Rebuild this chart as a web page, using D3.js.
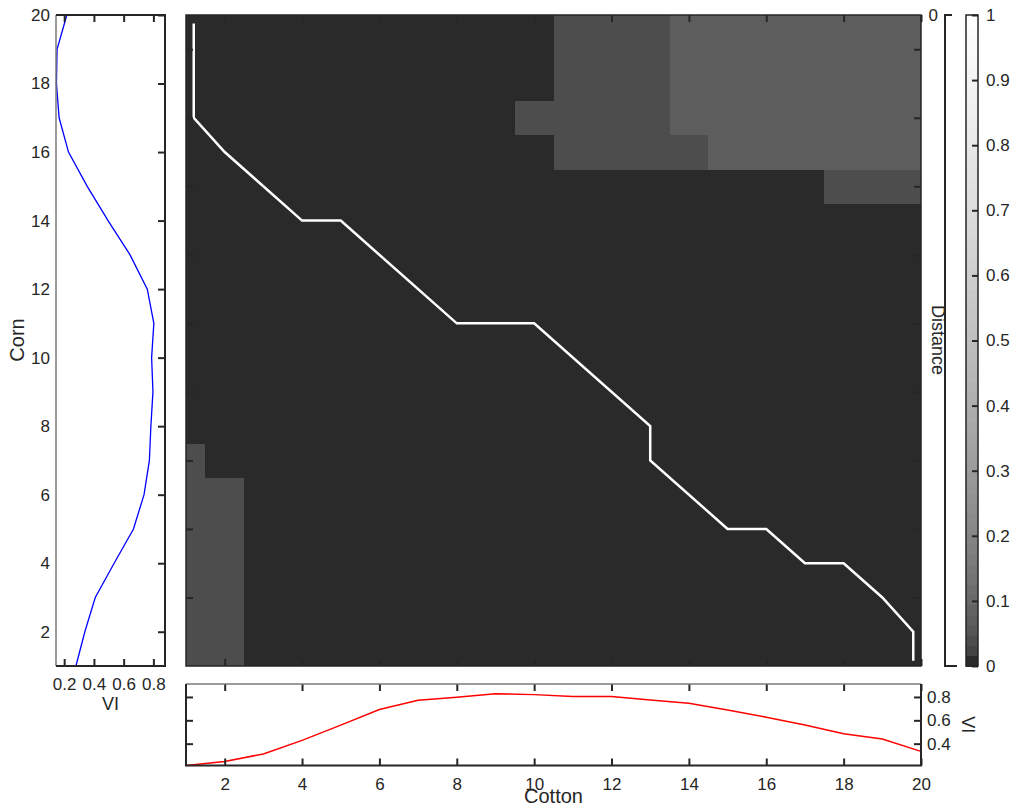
<!DOCTYPE html>
<html>
<head>
<meta charset="utf-8">
<script src="https://cdn.jsdelivr.net/npm/d3@7/dist/d3.min.js"></script>
<style>
  html, body { margin: 0; padding: 0; background: #fff; }
  svg { display: block; font-family: "Liberation Sans", Arial, sans-serif; }
  .tick text { fill: #262626; }
</style>
</head>
<body>
<svg id="chart" width="1019" height="811"></svg>
<script>
// ---- data ----
const cottonIdx = d3.range(1, 21);           // Cotton samples 1..20
const cornIdx = d3.range(1, 21);             // Corn samples 1..20

// VI profile of Cotton (bottom panel), index 1..20
const cottonVI = [0.213, 0.247, 0.312, 0.428, 0.559, 0.692, 0.772, 0.797, 0.828, 0.820,
                  0.803, 0.803, 0.774, 0.746, 0.689, 0.627, 0.559, 0.485, 0.440, 0.334];
// VI profile of Corn (left panel), index 1..20
const cornVI = [0.279, 0.339, 0.409, 0.536, 0.666, 0.737, 0.773, 0.783, 0.797, 0.788,
                0.803, 0.759, 0.643, 0.495, 0.355, 0.229, 0.166, 0.148, 0.152, 0.218];

// Distance matrix, one row per Corn index (1..20), one column per Cotton index (1..20)
const distanceRows = [
  [0.04,0.04,0,0,0,0,0,0,0,0,0,0,0,0,0,0,0,0,0,0],
  [0.04,0.04,0,0,0,0,0,0,0,0,0,0,0,0,0,0,0,0,0,0],
  [0.04,0.04,0,0,0,0,0,0,0,0,0,0,0,0,0,0,0,0,0,0],
  [0.04,0.04,0,0,0,0,0,0,0,0,0,0,0,0,0,0,0,0,0,0],
  [0.04,0.04,0,0,0,0,0,0,0,0,0,0,0,0,0,0,0,0,0,0],
  [0.04,0.04,0,0,0,0,0,0,0,0,0,0,0,0,0,0,0,0,0,0],
  [0.04,0,0,0,0,0,0,0,0,0,0,0,0,0,0,0,0,0,0,0],
  [0,0,0,0,0,0,0,0,0,0,0,0,0,0,0,0,0,0,0,0],
  [0,0,0,0,0,0,0,0,0,0,0,0,0,0,0,0,0,0,0,0],
  [0,0,0,0,0,0,0,0,0,0,0,0,0,0,0,0,0,0,0,0],
  [0,0,0,0,0,0,0,0,0,0,0,0,0,0,0,0,0,0,0,0],
  [0,0,0,0,0,0,0,0,0,0,0,0,0,0,0,0,0,0,0,0],
  [0,0,0,0,0,0,0,0,0,0,0,0,0,0,0,0,0,0,0,0],
  [0,0,0,0,0,0,0,0,0,0,0,0,0,0,0,0,0,0,0,0],
  [0,0,0,0,0,0,0,0,0,0,0,0,0,0,0,0,0,0.04,0.04,0.04],
  [0,0,0,0,0,0,0,0,0,0,0.04,0.04,0.04,0.04,0.07,0.07,0.07,0.07,0.07,0.07],
  [0,0,0,0,0,0,0,0,0,0.04,0.04,0.04,0.04,0.07,0.07,0.07,0.07,0.07,0.07,0.07],
  [0,0,0,0,0,0,0,0,0,0,0.04,0.04,0.04,0.07,0.07,0.07,0.07,0.07,0.07,0.07],
  [0,0,0,0,0,0,0,0,0,0,0.04,0.04,0.04,0.07,0.07,0.07,0.07,0.07,0.07,0.07],
  [0,0,0,0,0,0,0,0,0,0,0.04,0.04,0.04,0.07,0.07,0.07,0.07,0.07,0.07,0.07]
];

// Warping path (Cotton index, Corn index)
const pathCotton = [1.2, 1.2, 2, 4, 5, 8, 10, 13, 13, 15, 16, 17, 18, 19, 19.8, 19.8];
const pathCorn   = [19.75, 17, 16, 14, 14, 11, 11, 8, 7, 5, 5, 4, 4, 3, 2, 1.15];

const idxTicks = [2, 4, 6, 8, 10, 12, 14, 16, 18, 20];
const oddTicks = [3, 5, 7, 9, 11, 13, 15, 17, 19];
const viTicksLeft = [0.2, 0.4, 0.6, 0.8];
const viTicksBottom = [0.4, 0.6, 0.8];
const colorbarTicks = [0, 0.1, 0.2, 0.3, 0.4, 0.5, 0.6, 0.7, 0.8, 0.9, 1];

// ---- layout ----
const svg = d3.select("#chart");
const ink = "#262626";
const main = { left: 186, right: 921, top: 15, bottom: 666 };
const leftP = { left: 56, right: 165 };
const botP = { top: 684, bottom: 765.5 };
const cbar = { left: 966, right: 978 };

const x = d3.scaleLinear().domain([1, 20]).range([main.left, main.right]);
const y = d3.scaleLinear().domain([1, 20]).range([main.bottom, main.top]);
const xVI = d3.scaleLinear().domain([0.145, 0.878]).range([leftP.left, leftP.right]);
const yVI = d3.scaleLinear().domain([0.213, 0.911]).range([botP.bottom, botP.top]);
const yCb = d3.scaleLinear().domain([0, 1]).range([main.bottom, main.top]);

// 64-level gray colormap
const nLevels = 64;
const levelGray = i => Math.round(42 + 213 * Math.pow(i / (nLevels - 1), 0.52));
const grayColor = v => {
  const i = Math.max(0, Math.min(nLevels - 1, Math.floor(v * nLevels)));
  const g = levelGray(i);
  return `rgb(${g},${g},${g})`;
};

function styleAxis(g, fontSize) {
  g.select(".domain").remove();
  g.selectAll(".tick line").attr("stroke", ink).attr("stroke-width", 2);
  g.selectAll(".tick text").attr("font-size", fontSize).attr("fill", ink);
}

// ---- heat map ----
svg.append("clipPath").attr("id", "mainClip")
  .append("rect")
  .attr("x", main.left).attr("y", main.top)
  .attr("width", main.right - main.left).attr("height", main.bottom - main.top);

const cells = [];
distanceRows.forEach((row, r) => row.forEach((v, c) => cells.push({ corn: cornIdx[r], cotton: cottonIdx[c], v })));

svg.append("g").attr("clip-path", "url(#mainClip)")
  .selectAll("rect").data(cells).join("rect")
  .attr("x", d => x(d.cotton - 0.5))
  .attr("y", d => y(d.corn + 0.5))
  .attr("width", d => x(d.cotton + 0.5) - x(d.cotton - 0.5) + 0.5)
  .attr("height", d => y(d.corn - 0.5) - y(d.corn + 0.5) + 0.5)
  .attr("fill", d => grayColor(d.v))
  .attr("shape-rendering", "crispEdges");

// warping path
const pathPts = pathCotton.map((c, i) => [c, pathCorn[i]]);
svg.append("path")
  .datum(pathPts)
  .attr("d", d3.line().x(d => x(d[0])).y(d => y(d[1])))
  .attr("fill", "none").attr("stroke", "#fff").attr("stroke-width", 2.5);

// inward ticks on all four sides of the heat map
svg.append("g").attr("transform", `translate(0,${main.bottom})`)
  .call(d3.axisBottom(x).tickValues(idxTicks).tickSize(-7).tickFormat(""))
  .call(g => styleAxis(g, 0));
svg.append("g").attr("transform", `translate(0,${main.top})`)
  .call(d3.axisTop(x).tickValues(idxTicks).tickSize(-7).tickFormat(""))
  .call(g => styleAxis(g, 0));
svg.append("g").attr("transform", `translate(${main.left},0)`)
  .call(d3.axisLeft(y).tickValues(oddTicks).tickSize(-7).tickFormat(""))
  .call(g => styleAxis(g, 0));
svg.append("g").attr("transform", `translate(${main.right},0)`)
  .call(d3.axisRight(y).tickValues(oddTicks).tickSize(-7).tickFormat(""))
  .call(g => styleAxis(g, 0));
svg.append("rect")
  .attr("x", main.left).attr("y", main.top)
  .attr("width", main.right - main.left).attr("height", main.bottom - main.top)
  .attr("fill", "none").attr("stroke", ink).attr("stroke-width", 1.5);

// ---- left panel: Corn VI ----
svg.append("path")
  .datum(cornIdx.map((k, i) => [cornVI[i], k]))
  .attr("d", d3.line().x(d => xVI(d[0])).y(d => y(d[1])))
  .attr("fill", "none").attr("stroke", "#0000ff").attr("stroke-width", 1.3);

svg.append("g").attr("transform", `translate(${leftP.left},0)`)
  .call(d3.axisLeft(y).tickValues(idxTicks).tickSize(0).tickPadding(6))
  .call(g => styleAxis(g, 17));
svg.append("g").attr("transform", `translate(${leftP.right},0)`)
  .call(d3.axisRight(y).tickValues(idxTicks).tickSize(-7).tickFormat(""))
  .call(g => styleAxis(g, 0));
svg.append("g").attr("transform", `translate(0,${main.bottom})`)
  .call(d3.axisBottom(xVI).tickValues(viTicksLeft).tickSizeInner(-7).tickSizeOuter(0).tickPadding(12).tickFormat(d3.format(".1f")))
  .call(g => styleAxis(g, 17));
svg.append("g").attr("transform", `translate(0,${main.top})`)
  .call(d3.axisTop(xVI).tickValues(viTicksLeft).tickSize(-7).tickFormat(""))
  .call(g => styleAxis(g, 0));
// frame
svg.append("line").attr("x1", leftP.left).attr("x2", leftP.left).attr("y1", main.top).attr("y2", main.bottom)
  .attr("stroke", "#7a7a7a").attr("stroke-width", 1.5);
svg.append("path")
  .attr("d", `M${leftP.left},${main.top}H${leftP.right}V${main.bottom}H${leftP.left}`)
  .attr("fill", "none").attr("stroke", ink).attr("stroke-width", 2);

svg.append("text")
  .attr("transform", `translate(24,340) rotate(-90)`)
  .attr("text-anchor", "middle").attr("font-size", 20).attr("fill", ink)
  .text("Corn");
svg.append("text")
  .attr("x", (leftP.left + leftP.right) / 2).attr("y", 710)
  .attr("text-anchor", "middle").attr("font-size", 18).attr("fill", ink)
  .text("VI");

// ---- bottom panel: Cotton VI ----
svg.append("path")
  .datum(cottonIdx.map((k, i) => [k, cottonVI[i]]))
  .attr("d", d3.line().x(d => x(d[0])).y(d => yVI(d[1])))
  .attr("fill", "none").attr("stroke", "#ff0000").attr("stroke-width", 1.5);

svg.append("g").attr("transform", `translate(0,${botP.bottom})`)
  .call(d3.axisBottom(x).tickValues(idxTicks).tickSizeInner(-7).tickSizeOuter(0).tickPadding(12))
  .call(g => styleAxis(g, 17));
svg.append("g").attr("transform", `translate(0,${botP.top})`)
  .call(d3.axisTop(x).tickValues(idxTicks).tickSize(-7).tickFormat(""))
  .call(g => styleAxis(g, 0));
svg.append("g").attr("transform", `translate(${main.left},0)`)
  .call(d3.axisLeft(yVI).tickValues(viTicksBottom).tickSize(-7).tickFormat(""))
  .call(g => styleAxis(g, 0));
svg.append("g").attr("transform", `translate(${main.right},0)`)
  .call(d3.axisRight(yVI).tickValues(viTicksBottom).tickSizeInner(-7).tickSizeOuter(0).tickPadding(6).tickFormat(d3.format(".1f")))
  .call(g => styleAxis(g, 17));
svg.append("line").attr("x1", main.left).attr("x2", main.right).attr("y1", botP.top).attr("y2", botP.top)
  .attr("stroke", "#7a7a7a").attr("stroke-width", 1.5);
svg.append("path")
  .attr("d", `M${main.left},${botP.top}V${botP.bottom}H${main.right}V${botP.top}`)
  .attr("fill", "none").attr("stroke", ink).attr("stroke-width", 2);

svg.append("text")
  .attr("x", (main.left + main.right) / 2).attr("y", 803)
  .attr("text-anchor", "middle").attr("font-size", 20).attr("fill", ink)
  .text("Cotton");
svg.append("text")
  .attr("transform", `translate(962,${(botP.top + botP.bottom) / 2}) rotate(90)`)
  .attr("text-anchor", "middle").attr("font-size", 18).attr("fill", ink)
  .text("VI");

// ---- Distance bracket ----
svg.append("path")
  .attr("d", `M952,${main.top}H945V${main.bottom}H957`)
  .attr("fill", "none").attr("stroke", ink).attr("stroke-width", 2);
svg.append("text")
  .attr("x", 938).attr("y", main.top + 6)
  .attr("text-anchor", "end").attr("font-size", 17).attr("fill", ink)
  .text("0");
svg.append("text")
  .attr("transform", `translate(932,340) rotate(90)`)
  .attr("text-anchor", "middle").attr("font-size", 18).attr("fill", ink)
  .text("Distance");

// ---- colour bar ----
const bands = d3.range(nLevels);
svg.append("g").selectAll("rect").data(bands).join("rect")
  .attr("x", cbar.left)
  .attr("y", i => yCb((i + 1) / nLevels))
  .attr("width", cbar.right - cbar.left)
  .attr("height", i => yCb(i / nLevels) - yCb((i + 1) / nLevels) + 0.5)
  .attr("fill", i => { const g = levelGray(i); return `rgb(${g},${g},${g})`; })
  .attr("shape-rendering", "crispEdges");
svg.append("g").attr("transform", `translate(${cbar.right},0)`)
  .call(d3.axisRight(yCb).tickValues(colorbarTicks).tickSizeInner(-6).tickSizeOuter(0).tickPadding(8)
    .tickFormat(d => d === 0 || d === 1 ? String(d) : d3.format(".1f")(d)))
  .call(g => styleAxis(g, 17));
svg.append("rect")
  .attr("x", cbar.left).attr("y", main.top)
  .attr("width", cbar.right - cbar.left).attr("height", main.bottom - main.top)
  .attr("fill", "none").attr("stroke", ink).attr("stroke-width", 1.5);
</script>
</body>
</html>
